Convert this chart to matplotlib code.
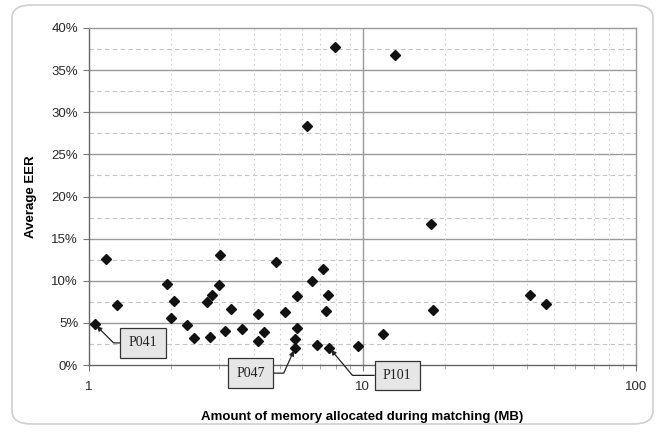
"""Average EER vs. memory allocated during matching (log-scale scatter)."""

import numpy as np
import matplotlib
matplotlib.use("Agg")
import matplotlib.pyplot as plt
from matplotlib.patches import FancyBboxPatch
from matplotlib.ticker import FixedLocator, FixedFormatter, LogLocator, NullFormatter

plt.rcParams["font.family"] = ["Liberation Sans", "DejaVu Sans"]

# memory (MB) and average EER (%)
memory_mb = [1.05, 1.15, 1.27, 1.93, 1.99, 2.05, 2.29, 2.43, 2.70, 2.82,
             2.78, 2.98, 3.01, 3.14, 3.30, 3.62, 4.16, 4.16, 4.36, 4.83,
             5.22, 5.66, 5.66, 5.78, 5.78, 6.29, 6.55, 6.83, 7.18, 7.35,
             7.50, 7.56, 7.93, 9.6, 11.9, 13.2, 17.85, 18.06, 41.1, 46.9]
avg_eer = [4.85, 12.6, 7.1, 9.6, 5.55, 7.65, 4.7, 3.15, 7.45, 8.3,
           3.3, 9.55, 13.05, 4.05, 6.7, 4.25, 6.1, 2.9, 3.9, 12.2,
           6.25, 3.05, 2.0, 4.35, 8.15, 28.4, 9.95, 2.4, 11.35, 6.4,
           8.3, 2.05, 37.8, 2.3, 3.7, 36.8, 16.7, 6.5, 8.3, 7.25]

# labelled systems: (name, memory, eer)
callout_names = ["P041", "P047", "P101"]
callout_mem = [1.05, 5.66, 7.56]
callout_eer = [4.85, 2.0, 2.05]

y_ticks = [0, 5, 10, 15, 20, 25, 30, 35, 40]
x_ticks = [1, 10, 100]

fig = plt.figure(figsize=(6.65, 4.34), dpi=100)

# rounded frame around the whole chart
frame = FancyBboxPatch((12 / 665, 1 - 424 / 434), 641 / 665, 419 / 434,
                       boxstyle="round,pad=0,rounding_size=0.03",
                       transform=fig.transFigure, facecolor="white",
                       edgecolor="#cfcfcf", linewidth=1.2, zorder=-5)
fig.patches.append(frame)

ax = fig.add_axes([89 / 665, 1 - 365 / 434, 547 / 665, 337 / 434])
ax.set_zorder(2)
ax.set_xscale("log")
ax.set_xlim(1, 100)
ax.set_ylim(0, 40)

# grid: solid major y, dashed minor y, dotted minor x, solid major x
for v in np.arange(2.5, 40, 5):
    ax.axhline(v, color="#c4c4c4", lw=0.8, ls=(0, (4, 3)), zorder=1)
for v in y_ticks[1:-1]:
    ax.axhline(v, color="#9a9a9a", lw=1.0, zorder=1)
for dec in [1, 10]:
    for m in range(2, 10):
        ax.axvline(dec * m, color="#d2d2d2", lw=0.8, ls=(0, (1.5, 3)), zorder=1)
ax.axvline(10, color="#9a9a9a", lw=1.0, zorder=1)

ax.plot(memory_mb, avg_eer, ls="none", marker="D", ms=5, color="#111111", zorder=3)

ax.yaxis.set_major_locator(FixedLocator(y_ticks))
ax.yaxis.set_major_formatter(FixedFormatter([f"{t}%" for t in y_ticks]))
ax.xaxis.set_major_locator(FixedLocator(x_ticks))
ax.xaxis.set_major_formatter(FixedFormatter([str(t) for t in x_ticks]))
ax.xaxis.set_minor_locator(LogLocator(base=10, subs=np.arange(2, 10)))
ax.xaxis.set_minor_formatter(NullFormatter())

ax.tick_params(axis="both", which="major", labelsize=9.5, labelcolor="#2a2a2a",
               color="#777777", length=4.3, width=0.8, pad=3.5)
ax.tick_params(axis="x", which="minor", color="#999999", length=3, width=0.6)
ax.tick_params(axis="x", which="major", pad=7)

for side in ["top", "right"]:
    ax.spines[side].set_color("#9a9a9a")
for side in ["left", "bottom"]:
    ax.spines[side].set_color("#666666")
for s in ax.spines.values():
    s.set_linewidth(1.0)

ax.set_xlabel("Amount of memory allocated during matching (MB)", fontsize=9.5,
              fontweight="bold")
ax.xaxis.set_label_coords(0.5, -(411 - 365) / 337, transform=ax.transAxes)
ax.set_ylabel("Average EER", fontsize=9.5, fontweight="bold", va="center")
ax.yaxis.set_label_coords(-(89 - 31) / 547, 0.5, transform=ax.transAxes)

# callout boxes, offsets in points from the marked system
box_offsets = [(34.7, -13.5), (-32, -18), (49, -19.9)]
angle_b = [135, 66, 130]
for name, mx, my, off, ab in zip(callout_names, callout_mem, callout_eer,
                                 box_offsets, angle_b):
    ax.annotate(name, xy=(mx, my), xytext=off, textcoords="offset points",
                fontsize=10, family="Liberation Serif", color="#222222",
                ha="center", va="center", zorder=5, annotation_clip=False,
                bbox=dict(boxstyle="square,pad=0.6", facecolor="#e6e6e6",
                          edgecolor="#333333", linewidth=0.9),
                arrowprops=dict(arrowstyle="-|>", color="#222222", lw=0.9,
                                mutation_scale=7, shrinkA=0, shrinkB=2,
                                connectionstyle=f"angle,angleA=0,angleB={ab},rad=0"))

fig.savefig("out.png", dpi=100)
